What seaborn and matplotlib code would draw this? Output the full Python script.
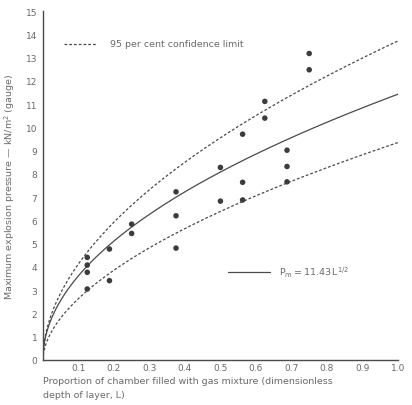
import numpy as np
import pandas as pd
import matplotlib
matplotlib.use("Agg")
from matplotlib import pyplot as plt
import seaborn as sns

# measured points: proportion of chamber filled (L) vs max pressure (kN/m^2)
depth = [0.125, 0.125, 0.125, 0.125,
         0.1875, 0.1875,
         0.25, 0.25,
         0.375, 0.375, 0.375,
         0.5, 0.5,
         0.5625, 0.5625, 0.5625,
         0.625, 0.625,
         0.6875, 0.6875, 0.6875,
         0.75, 0.75]
pressure = [4.41, 4.08, 3.77, 3.05,
            4.77, 3.41,
            5.84, 5.44,
            7.23, 6.20, 4.81,
            8.28, 6.83,
            9.71, 7.64, 6.88,
            11.12, 10.40,
            9.02, 8.32, 7.66,
            13.18, 12.48]

# fitted curve Pm = 11.43 L^(1/2) and the 95% limits
FIT_COEF, FIT_EXP = 11.43, 0.5
UPPER_COEF, UPPER_EXP = 13.72, 0.522
LOWER_COEF, LOWER_EXP = 9.35, 0.55

x_ticks = [0.1, 0.2, 0.3, 0.4, 0.5, 0.6, 0.7, 0.8, 0.9, 1.0]
y_ticks = list(range(0, 16))

ink = "#4a4a4a"
text_c = "#6a6a6a"

sns.set_style("white")
plt.rcParams["font.family"] = ["DejaVu Sans"]

fig = plt.figure(figsize=(4.12, 4.06), dpi=100)
ax = fig.add_axes([0.104, 0.111, 0.862, 0.859])

L = np.linspace(0, 1, 400)
curves = pd.DataFrame({
    "L": np.concatenate([L, L, L]),
    "P": np.concatenate([FIT_COEF * L ** FIT_EXP,
                         UPPER_COEF * L ** UPPER_EXP,
                         LOWER_COEF * L ** LOWER_EXP]),
    "kind": ["fit"] * len(L) + ["upper"] * len(L) + ["lower"] * len(L),
})

sns.lineplot(ax=ax, data=curves[curves["kind"] == "fit"], x="L", y="P",
             color=ink, linewidth=0.9)
for k in ["upper", "lower"]:
    sns.lineplot(ax=ax, data=curves[curves["kind"] == k], x="L", y="P",
                 color=ink, linewidth=0.9, linestyle=(0, (2.2, 1.6)))

pts = pd.DataFrame({"L": depth, "P": pressure})
sns.scatterplot(ax=ax, data=pts, x="L", y="P", color="#3c3c3c", s=16,
                edgecolor="none", zorder=5)

ax.set_xlim(0, 1.0)
ax.set_ylim(0, 15)
ax.set_xticks(x_ticks)
ax.set_xticklabels([f"{t:.1f}" for t in x_ticks])
ax.set_yticks(y_ticks)
ax.tick_params(axis="both", labelsize=6.5, colors=text_c, length=2, width=0.6,
               pad=2)
ax.tick_params(axis="x", length=0, pad=2)
for s in ["top", "right"]:
    ax.spines[s].set_visible(False)
for s in ["left", "bottom"]:
    ax.spines[s].set_color(ink)
    ax.spines[s].set_linewidth(1.0)

ax.set_xlabel("")
ax.set_ylabel("Maximum explosion pressure \u2014 kN/m$^2$ (gauge)",
              fontsize=6.8, color=text_c, labelpad=6)

fig.text(0.104, 0.060, "Proportion of chamber filled with gas mixture (dimensionless",
         fontsize=6.8, color=text_c, ha="left", va="center")
fig.text(0.104, 0.027, "depth of layer, L)",
         fontsize=6.8, color=text_c, ha="left", va="center")

# in-plot legend keys
ax.plot([0.06, 0.15], [13.6, 13.6], color=ink, linewidth=0.9,
        linestyle=(0, (2.2, 1.6)))
ax.text(0.19, 13.6, "95 per cent confidence limit", fontsize=6.8,
        color=text_c, va="center")
ax.plot([0.52, 0.64], [3.78, 3.78], color=ink, linewidth=0.9)
ax.text(0.665, 3.78, r"$\mathregular{P_m = 11.43\,L^{1/2}}$", fontsize=6.8,
        color=text_c, va="center")

fig.savefig("out.png", dpi=100, facecolor="white")
